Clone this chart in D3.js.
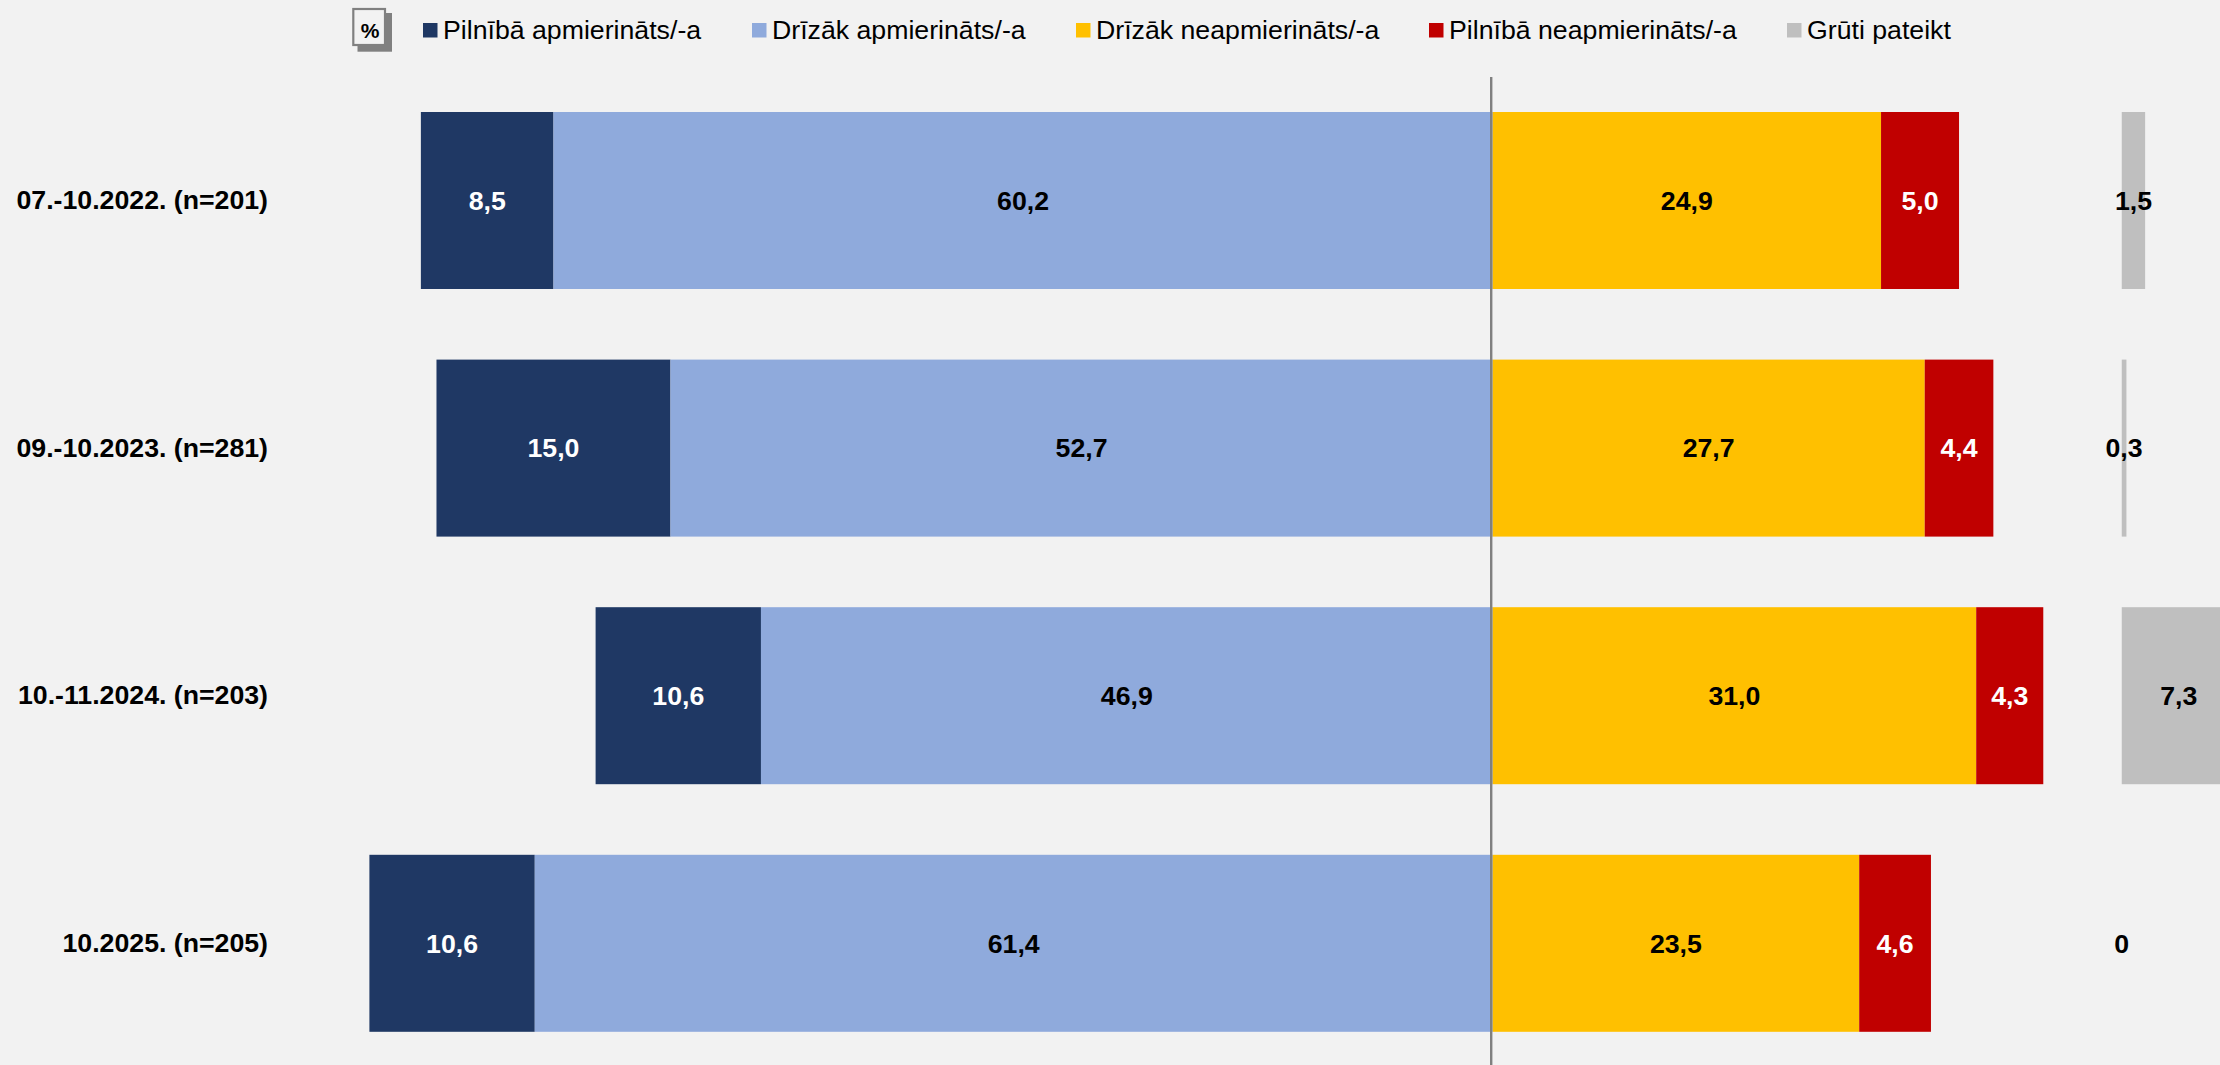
<!DOCTYPE html>
<html><head><meta charset="utf-8">
<script src="https://cdnjs.cloudflare.com/ajax/libs/d3/7.8.5/d3.min.js"></script>
<style>html,body{margin:0;padding:0;background:#f2f2f2;overflow:hidden}svg{display:block}text{font-family:"Liberation Sans",Arial,sans-serif}</style>
</head><body><svg id="c" width="2220" height="1065"></svg>
<script>
const categories = ["07.-10.2022. (n=201)","09.-10.2023. (n=281)","10.-11.2024. (n=203)","10.2025. (n=205)"];
const seriesNames = ["Pilnībā apmierināts/-a","Drīzāk apmierināts/-a","Drīzāk neapmierināts/-a","Pilnībā neapmierināts/-a","Grūti pateikt"];
const fullySatisfied = [8.5,15.0,10.6,10.6];
const ratherSatisfied = [60.2,52.7,46.9,61.4];
const ratherDissatisfied = [24.9,27.7,31.0,23.5];
const fullyDissatisfied = [5.0,4.4,4.3,4.6];
const hardToSay = [1.5,0.3,7.3,0];
const colors = ["#1f3864","#8faadc","#ffc000","#c00000","#bfbfbf"];
const labelColors = ["#fff","#000","#000","#fff","#000"];
const legendX = [423,752,1076,1429,1787];
const grayStart = 40.33;

const W=2220,H=1065;
const svg=d3.select("#c");
svg.append("rect").attr("width",W).attr("height",H).attr("fill","#f2f2f2");
const x=d3.scaleLinear().domain([-1492.6/15.6,(W-1492.6)/15.6]).range([0,W]);
const y=d3.scaleBand().domain(categories).range([76.7,1067.1]).paddingInner(70.6/247.6).paddingOuter(35.3/247.6);
const fmt=v=>v===0?"0":v.toFixed(1).replace(".",",");

const segs=[];
categories.forEach((c,i)=>{
  const a=fullySatisfied[i],b=ratherSatisfied[i],d=ratherDissatisfied[i],e=fullyDissatisfied[i],g=hardToSay[i];
  segs.push({c,v:a,x0:-(a+b),x1:-b,s:0});
  segs.push({c,v:b,x0:-b,x1:0,s:1});
  segs.push({c,v:d,x0:0,x1:d,s:2});
  segs.push({c,v:e,x0:d,x1:d+e,s:3});
  segs.push({c,v:g,x0:grayStart,x1:grayStart+g,s:4});
});
svg.append("g").selectAll("rect").data(segs).join("rect")
  .attr("x",d=>x(d.x0)).attr("width",d=>x(d.x1)-x(d.x0))
  .attr("y",d=>y(d.c)).attr("height",y.bandwidth()).attr("fill",d=>colors[d.s]);
svg.append("line").attr("x1",x(0)-1.4).attr("x2",x(0)-1.4).attr("y1",77).attr("y2",H)
  .attr("stroke","#808080").attr("stroke-width",2.4);
svg.append("g").selectAll("text").data(segs).join("text")
  .attr("x",d=>x((d.x0+d.x1)/2)).attr("y",d=>y(d.c)+y.bandwidth()/2).attr("dy","0.35em")
  .attr("text-anchor","middle").attr("font-size",26.7).attr("font-weight",700)
  .attr("fill",d=>labelColors[d.s]).text(d=>fmt(d.v));

const ax=svg.append("g").attr("transform","translate(268,0)")
  .call(d3.axisLeft(y).tickSize(0).tickPadding(0));
ax.select(".domain").remove();
ax.selectAll("text").attr("font-size",26.7).attr("font-weight",700).attr("fill","#000")
  .style("font-family",'"Liberation Sans",Arial,sans-serif');

const leg=svg.append("g").selectAll("g").data(seriesNames).join("g")
  .attr("transform",(d,i)=>`translate(${legendX[i]},0)`);
leg.append("rect").attr("y",23).attr("width",14.5).attr("height",14.5).attr("fill",(d,i)=>colors[i]);
leg.append("text").attr("x",20).attr("y",39).attr("font-size",26.7).attr("fill","#000").text(d=>d);

const ic=svg.append("g");
ic.append("rect").attr("x",357.5).attr("y",13).attr("width",34.5).attr("height",38.7).attr("fill","#808080");
ic.append("rect").attr("x",353.3).attr("y",9).attr("width",31.7).attr("height",36).attr("fill","#f2f2f2").attr("stroke","#808080").attr("stroke-width",2.2);
ic.append("text").attr("x",370).attr("y",38).attr("text-anchor","middle").attr("font-size",21).attr("font-weight",700).attr("fill","#000").text("%");
</script></body></html>
